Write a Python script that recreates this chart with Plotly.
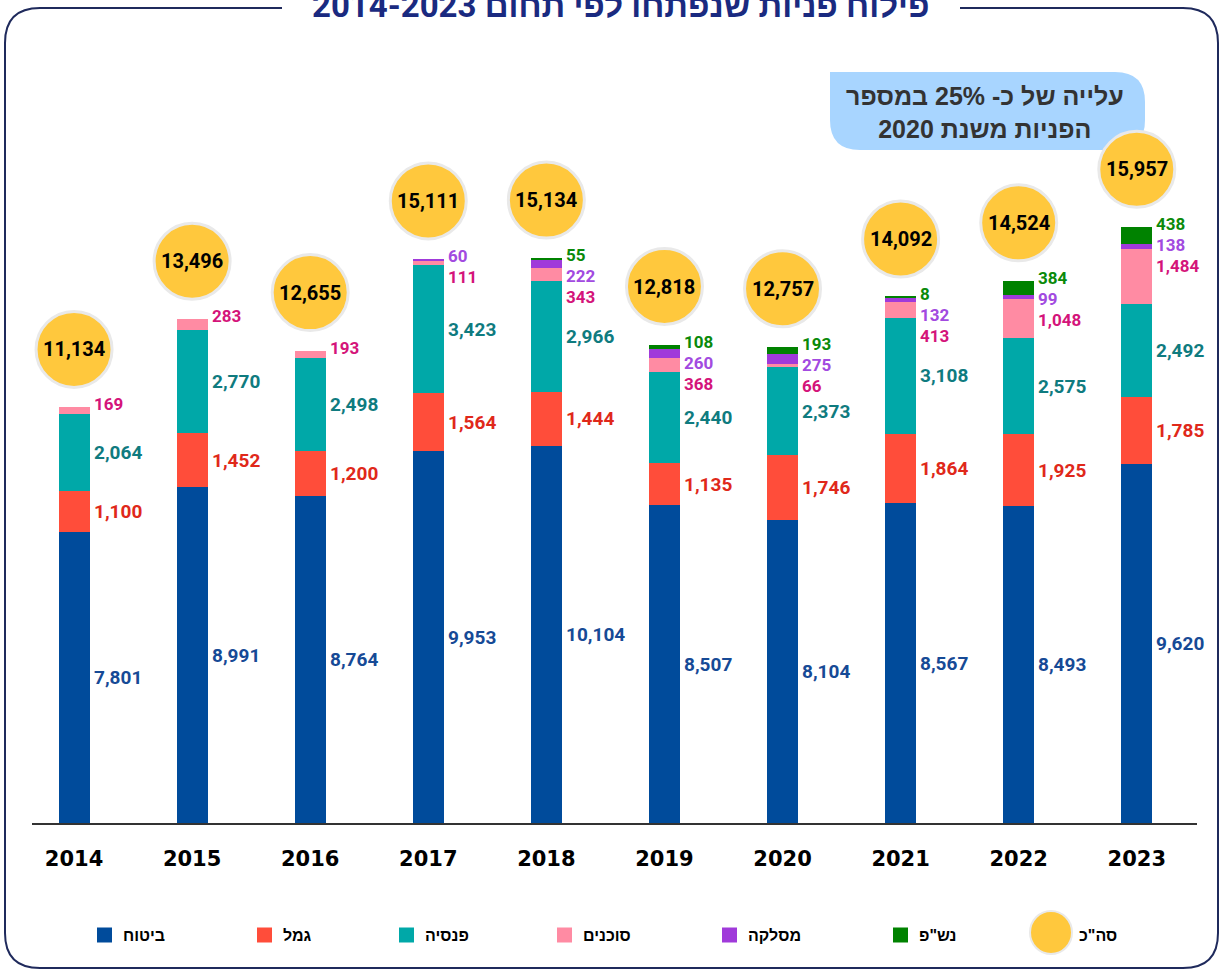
import plotly.graph_objects as go

years = ["2014", "2015", "2016", "2017", "2018", "2019", "2020", "2021", "2022", "2023"]
insurance = [7801, 8991, 8764, 9953, 10104, 8507, 8104, 8567, 8493, 9620]
gemel = [1100, 1452, 1200, 1564, 1444, 1135, 1746, 1864, 1925, 1785]
pension = [2064, 2770, 2498, 3423, 2966, 2440, 2373, 3108, 2575, 2492]
agents = [169, 283, 193, 111, 343, 368, 66, 413, 1048, 1484]
clearing = [None, None, None, 60, 222, 260, 275, 132, 99, 138]
nashp = [None, None, None, None, 55, 108, 193, 8, 384, 438]
totals = [11134, 13496, 12655, 15111, 15134, 12818, 12757, 14092, 14524, 15957]

names = ["ביטוח", "גמל", "פנסיה", "סוכנים", "מסלקה", 'נש"פ']
values = [insurance, gemel, pension, agents, clearing, nashp]
bar_colors = ["#004B9B", "#FF4D3A", "#00A8A8", "#FF8BA3", "#A03ADA", "#008200"]
label_colors = ["#164A96", "#E0281A", "#0F7B7F", "#D4147A", "#A24AE0", "#0A8A0A"]
total_name = 'סה"כ'

NUM_FONT = "Roboto, Arial"
HEB_FONT = "Liberation Sans, Arial, DejaVu Sans"

W, H = 1223, 973
ML, MR, MT, MB = 32, 26, 60, 150
PW, PH = W - ML - MR, H - MT - MB
YMAX = 20440
BAR_W = 0.262


def px(xp):
    return (xp - ML) / PW


def py(yp):
    return (H - MB - yp) / PH


xs = list(range(len(years)))
fig = go.Figure()
for name, vals, col in zip(names, values, bar_colors):
    fig.add_trace(go.Bar(
        x=xs, y=[v if v is not None else 0 for v in vals], name=name,
        width=BAR_W, marker=dict(color=col, line=dict(width=0)),
        showlegend=False, hoverinfo="skip"))

annotations = []
shapes = []

# frame
L, R, T, B, r = 5, 1218, 8, 968, 35
path = (f"M {px(L+r)},{py(T)} L {px(R-r)},{py(T)} Q {px(R)},{py(T)} {px(R)},{py(T+r)} "
        f"L {px(R)},{py(B-r)} Q {px(R)},{py(B)} {px(R-r)},{py(B)} "
        f"L {px(L+r)},{py(B)} Q {px(L)},{py(B)} {px(L)},{py(B-r)} "
        f"L {px(L)},{py(T+r)} Q {px(L)},{py(T)} {px(L+r)},{py(T)} Z")
shapes.append(dict(type="path", xref="paper", yref="paper", path=path,
                   line=dict(color="#1F2A5C", width=2), fillcolor="rgba(0,0,0,0)", layer="below"))
shapes.append(dict(type="rect", xref="paper", yref="paper", x0=px(282), x1=px(960), y0=py(20), y1=py(-2),
                   line=dict(width=0), fillcolor="white"))
annotations.append(dict(xref="paper", yref="paper", x=px(620), y=py(5), text="פילוח פניות שנפתחו לפי תחום 2014-2023",
                        showarrow=False, xanchor="center", yanchor="middle",
                        font=dict(family=NUM_FONT, size=33, color="#1A2A80", weight="bold")))

# callout
cL, cR, cT, cB, cr = 830, 1145, 72, 150, 30
cpath = (f"M {px(cL)},{py(cT)} L {px(cR-cr)},{py(cT)} Q {px(cR)},{py(cT)} {px(cR)},{py(cT+cr)} "
         f"L {px(cR)},{py(cB-cr)} Q {px(cR)},{py(cB)} {px(cR-cr)},{py(cB)} "
         f"L {px(cL+cr)},{py(cB)} Q {px(cL)},{py(cB)} {px(cL)},{py(cB-cr)} Z")
shapes.append(dict(type="path", xref="paper", yref="paper", path=cpath,
                   line=dict(width=0), fillcolor="#A8D5FF"))
annotations.append(dict(xref="paper", yref="paper", x=px(985), y=py(112),
                        text="עלייה של כ- 25% במספר<br>הפניות משנת 2020",
                        showarrow=False, xanchor="center", yanchor="middle", align="center",
                        font=dict(family=HEB_FONT, size=25, color="#333333", weight="bold")))

# value labels
for i in xs:
    base = 0
    for k in range(3):
        v = values[k][i]
        annotations.append(dict(x=i + BAR_W / 2, y=base + v / 2, xref="x", yref="y",
                                text=f"{v:,}", showarrow=False, xanchor="left", yanchor="middle",
                                xshift=2, font=dict(family=NUM_FONT, size=19, color=label_colors[k], weight="bold")))
        base += v
    small = [k for k in (5, 4, 3) if values[k][i] is not None]
    for j, k in enumerate(small):
        v = values[k][i]
        annotations.append(dict(x=i + BAR_W / 2, y=totals[i], xref="x", yref="y",
                                text=f"{v:,}", showarrow=False, xanchor="left", yanchor="middle",
                                xshift=2, yshift=3 - 21 * j,
                                font=dict(family=NUM_FONT, size=17, color=label_colors[k], weight="bold")))
    # total bubble
    shapes.append(dict(type="circle", xref="x", yref="y", xsizemode="pixel", ysizemode="pixel",
                       xanchor=i, yanchor=totals[i], x0=-38, x1=38, y0=20, y1=96,
                       fillcolor="#FFC83D", line=dict(color="#E9E9E9", width=3)))
    annotations.append(dict(x=i, y=totals[i], xref="x", yref="y", yshift=58,
                            text=f"{totals[i]:,}", showarrow=False, xanchor="center", yanchor="middle",
                            font=dict(family=NUM_FONT, size=20, color="black", weight="bold")))

# legend (manual)
sq_left = [97, 257, 399, 557, 722, 893]
ly = 935
for name, col, sx in zip(names, bar_colors, sq_left):
    shapes.append(dict(type="rect", xref="paper", yref="paper", x0=px(sx), x1=px(sx + 15),
                       y0=py(ly + 7.5), y1=py(ly - 7.5), fillcolor=col, line=dict(width=0)))
    annotations.append(dict(xref="paper", yref="paper", x=px(sx + 24), y=py(ly), text=name,
                            showarrow=False, xanchor="left", yanchor="middle",
                            font=dict(family=HEB_FONT, size=16, color="black", weight="bold")))
shapes.append(dict(type="circle", xref="paper", yref="paper", x0=px(1030), x1=px(1072),
                   y0=py(954), y1=py(911), fillcolor="#FFC83D", line=dict(color="#E9E9E9", width=2)))
annotations.append(dict(xref="paper", yref="paper", x=px(1077), y=py(ly), text=total_name,
                        showarrow=False, xanchor="left", yanchor="middle",
                        font=dict(family=HEB_FONT, size=16, color="black", weight="bold")))

fig.update_layout(
    barmode="stack", width=W, height=H,
    margin=dict(l=ML, r=MR, t=MT, b=MB),
    paper_bgcolor="white", plot_bgcolor="white",
    shapes=shapes, annotations=annotations, showlegend=False,
    xaxis=dict(range=[-0.356, 9.51], tickmode="array", tickvals=xs, ticktext=years,
               showline=True, linecolor="#333333", linewidth=1.5, showgrid=False, zeroline=False,
               ticks="", ticklabelstandoff=16,
               tickfont=dict(family="DejaVu Sans", size=21, color="black", weight="bold"), fixedrange=True),
    yaxis=dict(range=[0, YMAX], visible=False, showgrid=False, zeroline=False, fixedrange=True),
)

fig.write_html("out.html", config={"displayModeBar": False},
               post_script="document.body.style.margin='0px';")
